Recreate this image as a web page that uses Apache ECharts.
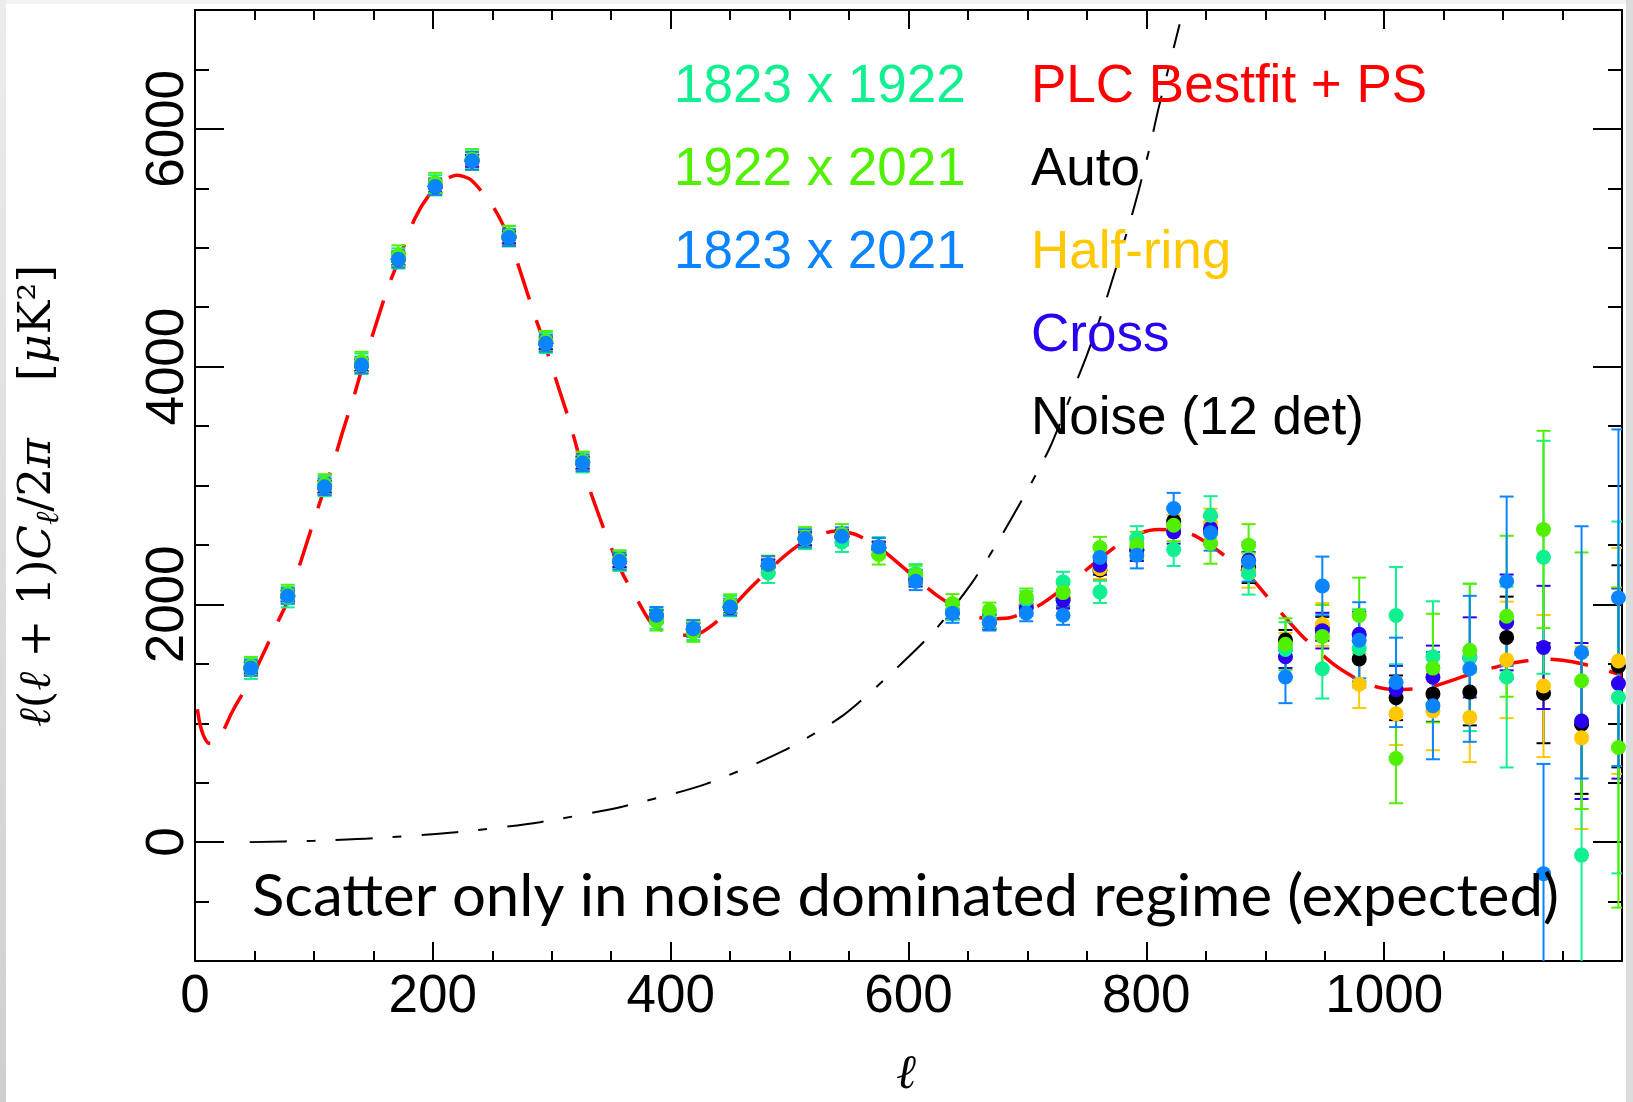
<!DOCTYPE html>
<html><head><meta charset="utf-8">
<script src="https://cdn.jsdelivr.net/npm/echarts@6/dist/echarts.min.js"></script>
<style>html,body{margin:0;padding:0;background:#fff;overflow:hidden}#c{width:1633px;height:1102px}</style>
</head><body><div id="c"></div>
<script>
// ---------- data ----------
const ell = [47,78,109,140,171,202,233,264,295,326,357,388,419,450,482,513,544,575,606,637,668,699,730,761,792,823,854,886,917,948,979,1010,1041,1072,1103,1134,1166,1197];

const xTickLabels = [0,200,400,600,800,1000];
const yTickLabels = [0,2000,4000,6000];

const v1823x2021 = [1465,2070,2990,4013,4903,5515,5731,5086,4196,3191,2363,1908,1796,1978,2335,2554,2573,2484,2195,1925,1845,1928,1908,2394,2413,2806,2602,2357,1389,2155,1698,1344,1148,1458,2194,-265,1596,2056];
const e1823x2021 = [65,65,70,70,70,70,75,70,70,70,70,70,70,70,70,75,75,75,75,80,65,70,80,95,110,132,150,165,220,247,320,376,451,614,713,923,1061,1416];

const v1922x2021 = [1478,2085,3010,4040,4935,5545,5740,5100,4215,3205,2375,1860,1765,2005,2330,2565,2590,2420,2245,2006,1950,2063,2099,2478,2500,2666,2512,2498,1665,1730,1906,703,1464,1614,1900,2630,1358,796];
const e1922x2021 = [80,80,85,85,85,85,85,85,85,80,80,80,80,80,80,85,85,85,80,80,65,70,80,90,110,135,170,177,218,265,319,376,457,560,677,830,1079,1347];

const v1823x1922 = [1458,2060,2995,4025,4910,5525,5745,5095,4200,3195,2365,1880,1785,1985,2265,2550,2526,2480,2259,1950,1870,2040,2189,2105,2554,2461,2750,2259,1620,1458,1629,1906,1560,1554,1389,2396,-109,1217];
const e1823x1922 = [85,85,85,85,85,85,85,85,85,85,85,85,85,85,85,85,85,85,80,80,70,70,85,93,104,138,160,177,230,250,330,409,466,620,761,980,1100,1480];

const vAuto = [1465,2070,2990,4013,4903,5515,5731,5086,4196,3191,2363,1900,1790,1975,2320,2550,2570,2470,2230,1940,1860,1990,2050,2290,2460,2700,2620,2310,1700,1795,1540,1214,1247,1262,1722,1253,992,1479];
const eAuto = [45,45,50,50,50,50,50,50,50,50,50,50,50,50,55,55,55,55,60,60,60,65,70,80,90,100,115,130,85,100,190,188,235,280,343,421,586,850];

const vHalf = [1465,2070,2990,4013,4903,5515,5731,5086,4196,3191,2363,1905,1795,1980,2325,2555,2575,2475,2220,1940,1860,2000,2060,2300,2480,2640,2680,2280,1650,1831,1328,1079,1103,1049,1533,1313,877,1524];
const eHalf = [50,50,55,55,55,55,55,55,55,55,55,55,55,55,60,60,60,60,65,65,65,70,75,85,95,110,125,140,110,180,200,262,330,376,490,598,767,950];

const vCross = [1465,2070,2990,4013,4903,5515,5731,5086,4196,3191,2363,1902,1792,1977,2322,2552,2572,2472,2210,1935,1850,1970,2034,2329,2456,2610,2640,2371,1560,1779,1749,1283,1388,1554,1848,1638,1019,1334];
const eCross = [45,45,50,50,50,50,50,50,50,50,50,50,50,50,55,55,55,55,60,60,60,65,70,80,90,100,115,130,95,150,190,200,265,337,403,518,656,800];

const bestfitL = [2,4,7,11,16,22,31,40,48,60,70,78,92,109,115,124,134,140,152,162,171,185,197,210,220,232,251,264,275,285,295,305,315,326,333,344,352,360,371,383,395,410,425,445,467,490,505,520,538,555,570,580,600,625,651,668,684,710,737,758,778,795,810,825,838,852,866,886,911,931,956,976,992,1009,1025,1042,1074,1102,1120,1136,1150,1167,1185,1200];
const bestfitV = [1117,1000,900,835,830,900,1091,1250,1390,1640,1860,2030,2456,2980,3143,3447,3761,3970,4350,4659,4890,5249,5445,5570,5610,5572,5341,5080,4757,4449,4160,3845,3536,3140,2935,2630,2430,2250,2054,1852,1770,1740,1759,1908,2138,2357,2480,2568,2616,2590,2510,2441,2273,2067,1914,1880,1886,1992,2189,2360,2512,2600,2630,2625,2590,2510,2408,2245,1955,1734,1508,1379,1310,1283,1290,1313,1418,1493,1525,1539,1530,1499,1450,1403];

const noiseL = [46,100,150,220,290,360,430,495,545,588,622,653,676,700,719,739,750,764,785,793,803,810,828];
const noiseV = [0,12,33,84,168,300,490,770,1066,1445,1781,2177,2540,2961,3322,3819,4097,4493,5175,5461,5849,6162,6880];

// ---------- styling ----------
const seriesDefs = [
  {name:'Auto', vals:vAuto, errs:eAuto, color:'#000000'},
  {name:'Half-ring', vals:vHalf, errs:eHalf, color:'#FFC800'},
  {name:'Cross', vals:vCross, errs:eCross, color:'#2A00F0'},
  {name:'1823 x 1922', vals:v1823x1922, errs:e1823x1922, color:'#10F090'},
  {name:'1922 x 2021', vals:v1922x2021, errs:e1922x2021, color:'#50F000'},
  {name:'1823 x 2021', vals:v1823x2021, errs:e1823x2021, color:'#0A84FF'}
];

function errRender(color){
  return function(params, api){
    const x = api.value(0), y = api.value(1), e = api.value(2);
    const p1 = api.coord([x, y + e]), p2 = api.coord([x, y - e]);
    const hw = 7;
    const st = {stroke: color, lineWidth: 2};
    return {type:'group', children:[
      {type:'line', shape:{x1:p1[0], y1:p1[1], x2:p2[0], y2:p2[1]}, style:st},
      {type:'line', shape:{x1:p1[0]-hw, y1:p1[1], x2:p1[0]+hw, y2:p1[1]}, style:st},
      {type:'line', shape:{x1:p2[0]-hw, y1:p2[1], x2:p2[0]+hw, y2:p2[1]}, style:st}
    ]};
  };
}

const series = [
  {type:'line', name:'PLC Bestfit + PS', data: bestfitL.map((l,i)=>[l, bestfitV[i]]), showSymbol:false, smooth:0.25,
   lineStyle:{color:'#FF0000', width:3.5, type:[38,22]}, silent:true, z:2},
  {type:'line', name:'Noise (12 det)', data: noiseL.map((l,i)=>[l, noiseV[i]]), showSymbol:false, smooth:0.25,
   lineStyle:{color:'#000000', width:2, type:[37,20,9,20]}, silent:true, z:2}
];
seriesDefs.forEach(d => {
  series.push({type:'custom', name:d.name+' err', renderItem: errRender(d.color), clip:true, silent:true, z:3,
    data: ell.map((l,i)=>[l, d.vals[i], d.errs[i]]), encode:{x:0, y:1}});
  series.push({type:'scatter', name:d.name, symbol:'circle', symbolSize:15, silent:true, z:3,
    itemStyle:{color:d.color, opacity:1}, data: ell.map((l,i)=>[l, d.vals[i]])});
});

const blackLine = {color:'#000', width:2};
const tickFont = {color:'#000', fontFamily:'Liberation Sans, Arial, sans-serif', fontSize:53};

const xBase = (pos, showLabel) => ({
  type:'value', min:0, max:1200, interval:200, position:pos,
  axisLine:{show:true, onZero:false, lineStyle:blackLine},
  axisTick:{show:true, inside:true, length:19, lineStyle:blackLine},
  minorTick:{show:true, splitNumber:4, length:10, lineStyle:blackLine},
  axisLabel: showLabel ? Object.assign({show:true, margin:10, formatter: v => xTickLabels.includes(v) ? String(v) : ''}, tickFont) : {show:false},
  splitLine:{show:false}, minorSplitLine:{show:false}
});
const yMinor = (pos, showLabel) => ({
  type:'value', min:-1000, max:7000, interval:500, position:pos,
  axisLine:{show:true, onZero:false, lineStyle:blackLine},
  axisTick:{show:true, inside:true, length:14, lineStyle:blackLine},
  axisLabel: showLabel ? Object.assign({show:true, customValues:yTickLabels, rotate:90, margin:0, formatter: v => String(v)}, tickFont) : {show:false},
  splitLine:{show:false}
});
const yMajor = (pos) => ({
  type:'value', min:-1000, max:7000, position:pos,
  axisLine:{show:false, onZero:false},
  axisTick:{show:true, inside:true, length:29, customValues:yTickLabels, lineStyle:blackLine},
  axisLabel:{show:false}, splitLine:{show:false}
});

const legendFont = '53px "Liberation Sans", Arial, sans-serif';
const legendLeft = [['1823 x 1922','#10F090'],['1922 x 2021','#50F000'],['1823 x 2021','#0A84FF']];
const legendRight = [['PLC Bestfit + PS','#FF0000'],['Auto','#000000'],['Half-ring','#FFC800'],['Cross','#2A00F0'],['Noise (12 det)','#000000']];
const rowY = [87, 170, 253, 336, 419];

const annText = 'Scatter only in noise dominated regime (expected)';
const mctx = document.createElement('canvas').getContext('2d');
mctx.font = '58px Lato';
const annScale = 1307 / mctx.measureText(annText).width;

const graphics = [
  {type:'rect', x:0, y:0, shape:{width:1633, height:4}, style:{fill:'#f3f3f3'}, silent:true},
  {type:'rect', x:0, y:0, shape:{width:6, height:1102}, style:{fill:{type:'linear', x:0, y:0, x2:0, y2:1, colorStops:[{offset:0,color:'#ececec'},{offset:1,color:'#cfcfcf'}]}}, silent:true},
  {type:'rect', x:1626, y:0, shape:{width:7, height:1102}, style:{fill:'#dcdcdc'}, silent:true}
];
legendLeft.forEach((t,i)=>graphics.push({type:'text', x:674, y:rowY[i], silent:true, z:10,
  style:{text:t[0], fill:t[1], font:legendFont, align:'left', verticalAlign:'middle'}}));
legendRight.forEach((t,i)=>graphics.push({type:'text', x:1031, y:rowY[i], silent:true, z:10,
  style:{text:t[0], fill:t[1], font:legendFont, align:'left', verticalAlign:'middle'}}));
graphics.push({type:'text', x:252, y:897, scaleX:annScale, silent:true, z:10,
  style:{text:annText, fill:'#000', font:'58px Lato, "Open Sans", sans-serif', align:'left', verticalAlign:'middle'}});
const serif = 'DejaVu Serif, serif';
graphics.push({type:'text', x:38, y:496, rotation:Math.PI/2, silent:true, z:10,
  style:{text:'{i|ℓ}{r|(}{i|ℓ}{r| + 1)}{i|C}{s|ℓ}{r|/2}{i|π}{r|    [}{i|μ}{r|K²]}', align:'center', verticalAlign:'middle',
    rich:{
      i:{fontFamily:serif, fontStyle:'italic', fontSize:45, fill:'#000', lineHeight:56},
      r:{fontFamily:serif, fontSize:45, fill:'#000', lineHeight:56},
      s:{fontFamily:serif, fontStyle:'italic', fontSize:32, fill:'#000', verticalAlign:'bottom', lineHeight:40}
    }}});
graphics.push({type:'text', x:906, y:1076, silent:true, z:10,
  style:{text:'ℓ', fill:'#000', font:'italic 48px "DejaVu Serif", serif', align:'center', verticalAlign:'middle'}});

const chart = echarts.init(document.getElementById('c'), null, {renderer:'canvas', width:1633, height:1102});
chart.setOption({
  animation:false,
  backgroundColor:'#ffffff',
  grid:{left:195, top:10, width:1427, height:951, containLabel:false, outerBoundsMode:'none'},
  xAxis:[xBase('bottom', true), xBase('top', false)],
  yAxis:[yMinor('left', true), yMajor('left'), yMinor('right', false), yMajor('right')],
  series: series,
  graphic: graphics
});
</script></body></html>
